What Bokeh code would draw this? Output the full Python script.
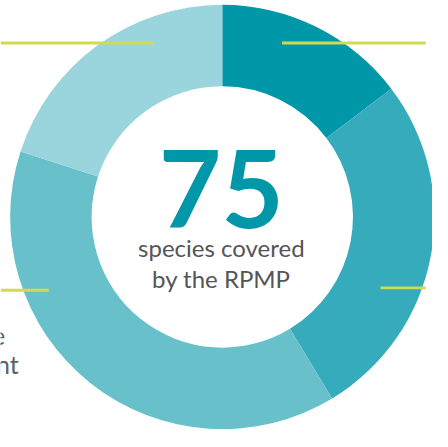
import math
from bokeh.plotting import figure
from bokeh.models import Range1d
from bokeh.core.properties import value
from bokeh.embed import file_html
from bokeh.resources import INLINE

# ---- data ----
groups = ["Group A", "Group B", "Group C", "Group D"]
counts = [11, 20, 29, 15]
colors = ["#0097a9", "#35abbc", "#68c0cb", "#9ad4dd"]
total_label = "75"
subtitle = ["species covered", "by the RPMP"]
side_labels = ["e", "nt"]

W, H = 448, 447  # reference canvas; data units are reference pixels (y up)

p = figure(width=432, height=431, output_backend="svg", toolbar_location=None,
           x_range=Range1d(0, W), y_range=Range1d(0, H),
           min_border=0, background_fill_color="white", border_fill_color="white")
p.axis.visible = False
p.grid.visible = False
p.outline_line_color = None

cx, cy = 230, H - 224.5
total = sum(counts)
starts, ends = [], []
cum = 0
for c in counts:
    starts.append(math.pi / 2 - 2 * math.pi * cum / total)
    cum += c
    ends.append(math.pi / 2 - 2 * math.pi * cum / total)

p.annular_wedge(x=cx, y=cy, inner_radius=135.5, outer_radius=220,
                start_angle=starts, end_angle=ends, direction="clock",
                fill_color=colors, line_color=None)

# leader lines
lc = "#d2db4e"
p.segment(x0=[0, 292, 0, 394], y0=[H - 44, H - 44, H - 300.5, H - 298],
          x1=[159, 441, 50, 441], y1=[H - 44, H - 44, H - 300.5, H - 298],
          line_color=lc, line_width=2.9)

# center text
p.text(x=[229], y=[H - 196], text=[total_label], text_align="center",
       text_baseline="alphabetic", text_font=value("Lato"), text_font_style="bold",
       text_font_size="108px", text_color="#0097a9")
p.text(x=[229, 229], y=[H - 256.5, H - 288.5], text=subtitle, text_align="center",
       text_baseline="alphabetic", text_font=value("Lato"),
       text_font_size="24px", text_color="#555555")

# clipped side labels
p.text(x=[5, 19], y=[H - 348, H - 377], text=side_labels, text_align="right",
       text_baseline="alphabetic", text_font=value("Lato"),
       text_font_size="25px", text_color="#56626e")

open("out.html", "w").write(file_html(p, INLINE))
